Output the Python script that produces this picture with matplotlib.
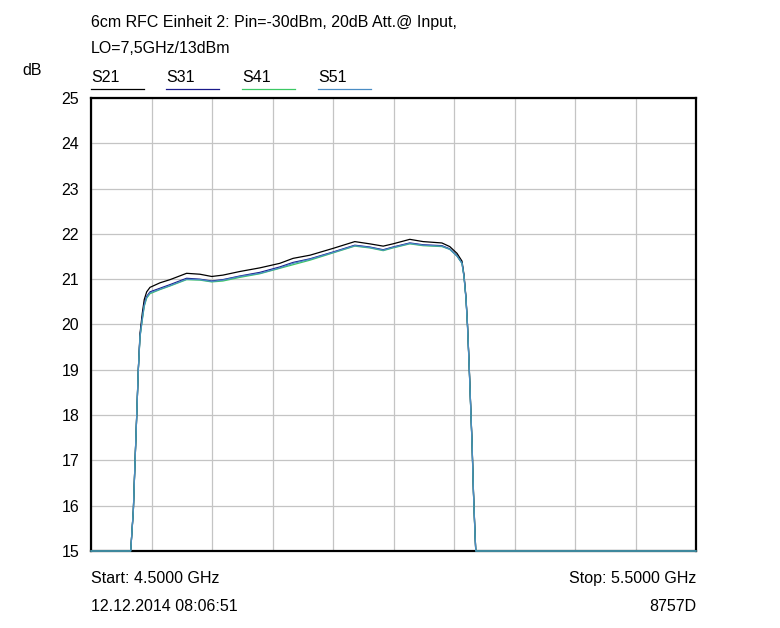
import numpy as np
import matplotlib
matplotlib.use("Agg")
import matplotlib.pyplot as plt
from matplotlib.lines import Line2D

plt.rcParams['font.family'] = ['Liberation Sans', 'DejaVu Sans']

freq_ghz = [4.500, 4.5656, 4.5700, 4.5727, 4.5755, 4.5782, 4.5810, 4.5848, 4.5880, 4.5920,
            4.5975, 4.6140, 4.6306, 4.6580, 4.6800, 4.6995, 4.7180, 4.7460, 4.7790, 4.8120,
            4.8340, 4.8620, 4.9000, 4.9360, 4.9610, 4.9830, 4.9990, 5.0270, 5.0490, 5.0800,
            5.0930, 5.1050, 5.1132, 5.1165, 5.1198, 5.1223, 5.1248, 5.1273, 5.1298, 5.1322,
            5.1347, 5.1360, 5.5000]

s21 = [15.0, 15.0, 15.9, 16.94, 17.97, 19.0, 19.8, 20.25, 20.55, 20.72,
       20.82, 20.92, 20.99, 21.13, 21.11, 21.06, 21.09, 21.17, 21.25, 21.35,
       21.46, 21.53, 21.68, 21.83, 21.78, 21.73, 21.78, 21.88, 21.83, 21.80,
       21.72, 21.57, 21.40, 21.10, 20.60, 20.00, 19.20, 18.30, 17.40, 16.30,
       15.40, 15.0, 15.0]
s31 = [15.0, 15.0, 15.9, 16.94, 17.97, 19.0, 19.75, 20.15, 20.45, 20.62,
       20.72, 20.80, 20.88, 21.02, 21.00, 20.96, 20.99, 21.07, 21.15, 21.27,
       21.37, 21.45, 21.60, 21.75, 21.71, 21.65, 21.71, 21.80, 21.76, 21.74,
       21.67, 21.52, 21.36, 21.07, 20.58, 19.98, 19.18, 18.28, 17.38, 16.28,
       15.38, 15.0, 15.0]
s41 = [15.0, 15.0, 15.9, 16.94, 17.97, 19.0, 19.72, 20.10, 20.40, 20.58,
       20.68, 20.77, 20.85, 20.99, 20.98, 20.94, 20.96, 21.04, 21.12, 21.24,
       21.32, 21.42, 21.58, 21.73, 21.69, 21.63, 21.69, 21.78, 21.74, 21.72,
       21.66, 21.51, 21.35, 21.06, 20.57, 19.97, 19.17, 18.27, 17.37, 16.27,
       15.37, 15.0, 15.0]
s51 = [15.0, 15.0, 15.9, 16.94, 17.97, 19.0, 19.73, 20.12, 20.42, 20.60,
       20.70, 20.78, 20.86, 21.00, 20.99, 20.95, 20.98, 21.06, 21.13, 21.25,
       21.35, 21.44, 21.59, 21.74, 21.70, 21.64, 21.70, 21.79, 21.75, 21.73,
       21.66, 21.51, 21.35, 21.06, 20.57, 19.97, 19.17, 18.27, 17.37, 16.27,
       15.37, 15.0, 15.0]

series_names = ["S21", "S31", "S41", "S51"]
series_colors = ["#000000", "#1a1a8a", "#3cc864", "#4a8cc4"]
y_ticks = list(range(15, 26))
x_ticks = list(np.linspace(4.5, 5.5, 11))

W, H = 780, 628
fig = plt.figure(figsize=(W / 100, H / 100), dpi=100)
ax = fig.add_axes([91 / W, (H - 551) / H, (696 - 91) / W, (551 - 98) / H])
ax.set_xlim(4.5, 5.5)
ax.set_ylim(15, 25)
ax.set_xticks(x_ticks)
ax.set_xticklabels([])
ax.set_yticks(y_ticks)
ax.set_yticklabels([str(v) for v in y_ticks], fontsize=11.5)
ax.tick_params(length=0, pad=8.5)
ax.grid(True, color="#c4c4c4", linewidth=0.9)
ax.set_axisbelow(True)
for sp in ax.spines.values():
    sp.set_linewidth(1.6)
    sp.set_color("black")
    sp.set_zorder(2.5)

for vals, name, col in zip([s21, s31, s41, s51], series_names, series_colors):
    ax.plot(freq_ghz, vals, color=col, linewidth=0.9, clip_on=False, zorder=3)

def fy(y):
    return 1 - y / H

fig.text(91 / W, fy(27), "6cm RFC Einheit 2: Pin=-30dBm, 20dB Att.@ Input,", fontsize=11.5, va="baseline")
fig.text(91 / W, fy(53), "LO=7,5GHz/13dBm", fontsize=11.5, va="baseline")
fig.text(22 / W, fy(75), "dB", fontsize=11.5, va="baseline")

leg_x = [91, 166, 242, 318]
for x0, name, col in zip(leg_x, series_names, series_colors):
    fig.text(x0 / W, fy(82), name, fontsize=11.5, va="baseline")
    fig.add_artist(Line2D([x0 / W, (x0 + 53) / W], [fy(89), fy(89)], color=col, linewidth=0.9))

fig.text(91 / W, fy(583), "Start: 4.5000 GHz", fontsize=11.5, va="baseline")
fig.text(696 / W, fy(583), "Stop: 5.5000 GHz", fontsize=11.5, va="baseline", ha="right")
fig.text(91 / W, fy(611), "12.12.2014 08:06:51", fontsize=11.5, va="baseline")
fig.text(696 / W, fy(611), "8757D", fontsize=11.5, va="baseline", ha="right")

fig.savefig("out.png", dpi=100, facecolor="white")
